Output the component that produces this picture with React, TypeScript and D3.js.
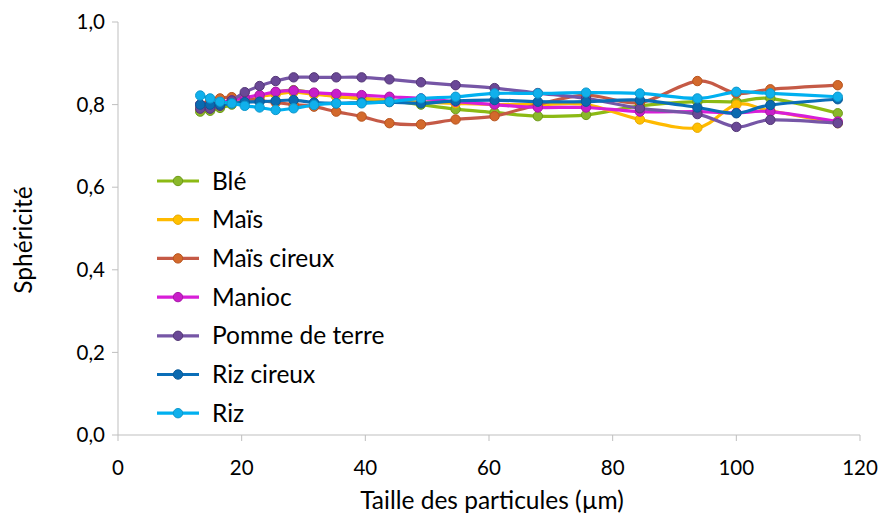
import React from "react";
import * as d3 from "d3";

const sizes = [13.3, 14.9, 16.5, 18.4, 20.5, 22.9, 25.5, 28.4, 31.7, 35.3, 39.4, 43.9, 49.0, 54.6, 60.9, 67.9, 75.7, 84.4, 93.7, 100.0, 105.5, 116.4];

const ble = [0.783, 0.785, 0.792, 0.8, 0.81, 0.82, 0.83, 0.835, 0.828, 0.82, 0.815, 0.81, 0.8, 0.789, 0.781, 0.772, 0.775, 0.797, 0.807, 0.807, 0.815, 0.779];
const mais = [0.79, 0.795, 0.8, 0.805, 0.81, 0.82, 0.825, 0.83, 0.825, 0.82, 0.815, 0.81, 0.806, 0.803, 0.8, 0.8, 0.8, 0.764, 0.744, 0.8, 0.785, 0.755];
const maisCireux = [0.8, 0.81, 0.815, 0.818, 0.815, 0.81, 0.805, 0.8, 0.795, 0.783, 0.771, 0.755, 0.752, 0.764, 0.772, 0.8, 0.823, 0.805, 0.857, 0.827, 0.837, 0.847];
const manioc = [0.8, 0.8, 0.805, 0.81, 0.817, 0.823, 0.831, 0.834, 0.829, 0.826, 0.823, 0.819, 0.815, 0.807, 0.8, 0.793, 0.793, 0.783, 0.783, 0.78, 0.783, 0.759];
const pomme = [0.79, 0.79, 0.797, 0.81, 0.83, 0.845, 0.857, 0.866, 0.866, 0.866, 0.866, 0.861, 0.854, 0.847, 0.84, 0.828, 0.815, 0.791, 0.777, 0.746, 0.763, 0.755];
const rizCireux = [0.8, 0.8, 0.8, 0.803, 0.806, 0.807, 0.809, 0.811, 0.805, 0.803, 0.805, 0.806, 0.803, 0.809, 0.811, 0.807, 0.807, 0.811, 0.793, 0.779, 0.799, 0.813];
const riz = [0.822, 0.815, 0.807, 0.803, 0.797, 0.793, 0.787, 0.791, 0.799, 0.803, 0.803, 0.807, 0.815, 0.819, 0.827, 0.827, 0.829, 0.827, 0.815, 0.831, 0.827, 0.819];

const seriesNames = ["Blé", "Maïs", "Maïs cireux", "Manioc", "Pomme de terre", "Riz cireux", "Riz"];
const seriesValues = [ble, mais, maisCireux, manioc, pomme, rizCireux, riz];
const lineColors = ["#8CBA14", "#FFBA00", "#C55A46", "#D81ED8", "#7656A6", "#0A6EB8", "#00B0F0"];
const markerFills = ["#8AB82A", "#FFC000", "#D3692C", "#C81EC8", "#6A4896", "#0A6AB0", "#10B0EC"];
const markerStrokes = ["#6F9A18", "#E8A800", "#B8541E", "#A818A8", "#553877", "#0A5A98", "#0E98CC"];

const xTicks = [0, 20, 40, 60, 80, 100, 120];
const yTicks = [0, 0.2, 0.4, 0.6, 0.8, 1.0];

const W = 889;
const H = 518;
const left = 118;
const right = 860;
const top = 22;
const bottom = 435;
const FONT = "Lato, 'Open Sans', sans-serif";
const FS = 24.5;
const TFS = 20.5;

export default function App() {
  const x = d3.scaleLinear().domain([0, 120]).range([left, right]);
  const y = d3.scaleLinear().domain([0, 1]).range([bottom, top]);
  const line = d3
    .line<number>()
    .x((_, i) => x(sizes[i]))
    .y((d) => y(d))
    .curve(d3.curveCardinal.tension(0));

  const axisColor = "#BFBFBF";
  const legendY0 = 181;
  const legendStep = 38.7;

  return (
    <svg width={W} height={H} style={{ position: "absolute", left: 0, top: 0, background: "#fff" }} fontFamily={FONT}>
      <rect width={W} height={H} fill="#fff" />
      <line x1={left} x2={left} y1={top} y2={bottom} stroke={axisColor} strokeWidth={1} />
      <line x1={left} x2={right} y1={bottom} y2={bottom} stroke={axisColor} strokeWidth={1} />
      {yTicks.map((t) => (
        <g key={"y" + t}>
          <line x1={left - 6} x2={left} y1={y(t)} y2={y(t)} stroke={axisColor} />
          <text x={left - 13} y={y(t)} dy="0.35em" textAnchor="end" fontSize={TFS} fill="#000">
            {t.toFixed(1).replace(".", ",")}
          </text>
        </g>
      ))}
      {xTicks.map((t) => (
        <g key={"x" + t}>
          <line x1={x(t)} x2={x(t)} y1={bottom} y2={bottom + 6} stroke={axisColor} />
          <text x={x(t)} y={468} dy="0.35em" textAnchor="middle" fontSize={TFS} fill="#000">
            {t}
          </text>
        </g>
      ))}
      <text x={(left + right) / 2 + 3} y={500} dy="0.35em" textAnchor="middle" fontSize={FS} fill="#000">
        Taille des particules (µm)
      </text>
      <text transform={`translate(23,240) rotate(-90)`} dy="0.35em" textAnchor="middle" fontSize={FS} fill="#000">
        Sphéricité
      </text>
      {seriesValues.map((vals, si) => (
        <g key={seriesNames[si]}>
          <path d={line(vals) || ""} fill="none" stroke={lineColors[si]} strokeWidth={3.2} />
          {vals.map((v, i) => (
            <circle key={i} cx={x(sizes[i])} cy={y(v)} r={4.7} fill={markerFills[si]} stroke={markerStrokes[si]} strokeWidth={1} />
          ))}
        </g>
      ))}
      {seriesNames.map((name, si) => {
        const ly = legendY0 + si * legendStep;
        return (
          <g key={"lg" + name}>
            <line x1={157} x2={199} y1={ly} y2={ly} stroke={lineColors[si]} strokeWidth={3.2} />
            <circle cx={178} cy={ly} r={4.7} fill={markerFills[si]} stroke={markerStrokes[si]} strokeWidth={1} />
            <text x={212} y={ly} dy="0.35em" fontSize={FS} fill="#000">
              {name}
            </text>
          </g>
        );
      })}
    </svg>
  );
}
